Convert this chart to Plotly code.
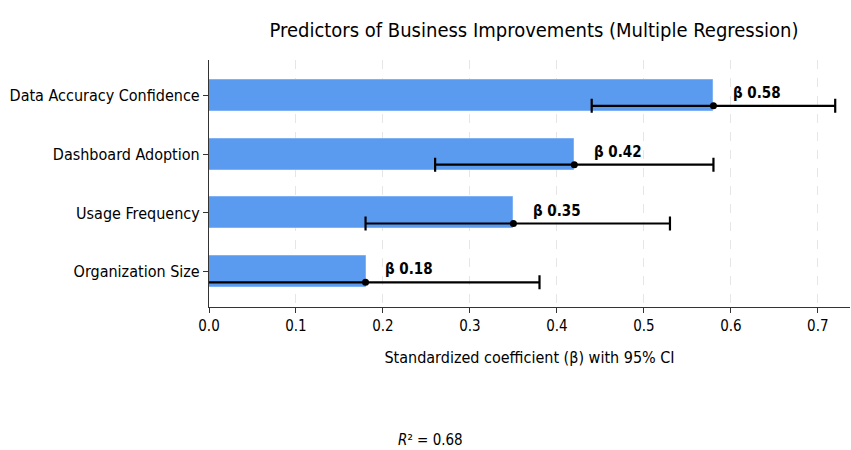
import plotly.graph_objects as go

# Regression predictors, listed bottom to top
predictors = ["Organization Size", "Usage Frequency", "Dashboard Adoption", "Data Accuracy Confidence"]
beta = [0.18, 0.35, 0.42, 0.58]
ci_low = [-0.02, 0.18, 0.26, 0.44]
ci_high = [0.38, 0.53, 0.58, 0.72]
x_ticks = [0.0, 0.1, 0.2, 0.3, 0.4, 0.5, 0.6, 0.7]
r_squared = 0.68

FONT = "DejaVu Sans Condensed, Liberation Sans Narrow, DejaVu Sans, sans-serif"
pos = list(range(len(predictors)))
err_pos = [p - 0.18 for p in pos]

fig = go.Figure()

fig.add_trace(go.Bar(
    x=beta, y=pos, orientation="h", width=0.53,
    marker=dict(color="#5a9bf0", line=dict(color="#7fb2f5", width=1)),
    showlegend=False, hoverinfo="skip",
))

fig.add_trace(go.Scatter(
    x=beta, y=err_pos, mode="markers",
    marker=dict(color="black", size=7),
    error_x=dict(
        type="data", symmetric=False,
        array=[h - b for h, b in zip(ci_high, beta)],
        arrayminus=[b - l for b, l in zip(beta, ci_low)],
        color="black", thickness=2.2, width=7,
    ),
    showlegend=False,
))

# Coefficient labels to the right of each bar end
for p, b in zip(pos, beta):
    fig.add_annotation(
        x=b + 0.02, y=p + 0.04, text=f"<b>β {b:.2f}</b>",
        showarrow=False, xanchor="left", yanchor="middle",
        font=dict(family=FONT, size=15, color="black"),
    )

fig.add_annotation(
    x=(430 - 209) / (850 - 209), y=-0.54, xref="paper", yref="paper",
    text=f"<i>R</i>² = {r_squared:.2f}", showarrow=False,
    xanchor="center", yanchor="middle",
    font=dict(family=FONT, size=15, color="black"),
)

fig.update_layout(
    width=851, height=450,
    margin=dict(l=209, r=1, t=60, b=143),
    paper_bgcolor="white", plot_bgcolor="white",
    font=dict(family=FONT, color="black"),
    title=dict(
        text="Predictors of Business Improvements (Multiple Regression)",
        x=534 / 851, xanchor="center", y=1 - 30 / 450, yanchor="middle",
        font=dict(family=FONT, size=20, color="black"),
    ),
    bargap=0,
)

fig.update_xaxes(
    range=[0, 0.737], tickvals=x_ticks, ticktext=[f"{v:.1f}" for v in x_ticks],
    showline=True, linecolor="#333", linewidth=1.2,
    ticks="outside", ticklen=5, tickcolor="#333",
    showgrid=True, gridcolor="#e6e6e6", griddash="dash", gridwidth=1,
    zeroline=False, tickfont=dict(size=15),
    title=dict(text="Standardized coefficient (β) with 95% CI", font=dict(size=16), standoff=17),
)
fig.update_yaxes(
    range=[-0.6, 3.6], tickvals=pos, ticktext=predictors,
    showline=True, linecolor="#333", linewidth=1.2,
    ticks="outside", ticklen=5, tickcolor="#333",
    showgrid=False, zeroline=False, tickfont=dict(size=16),
)

fig.write_html("out.html")
